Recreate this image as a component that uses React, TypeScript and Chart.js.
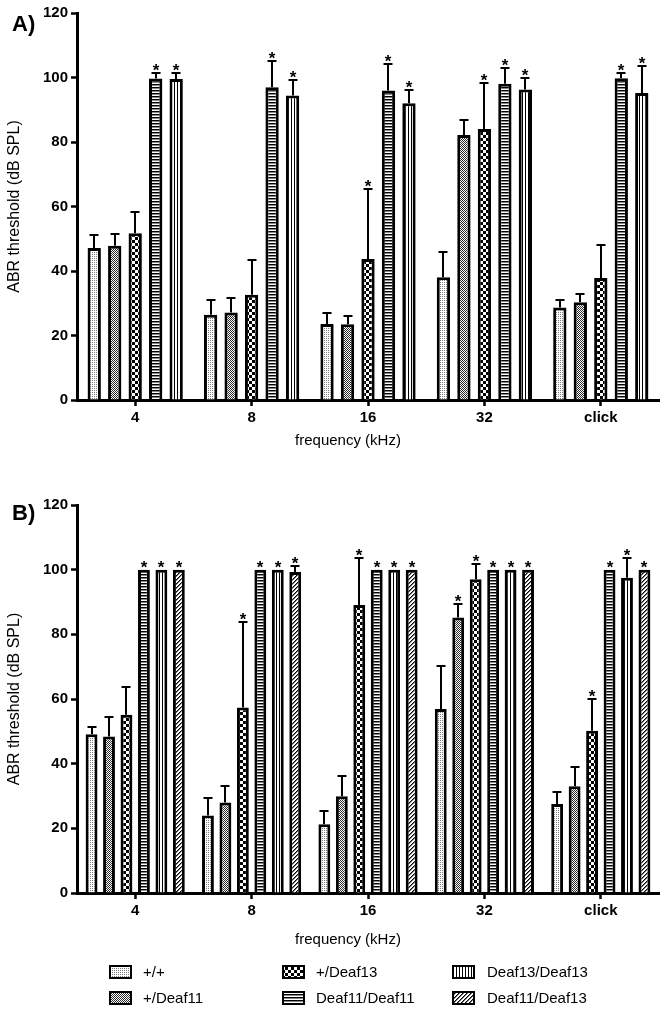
import React, { useEffect, useRef } from 'react';
import { Chart, registerables } from 'chart.js';

Chart.register(...registerables);

const FONT = "'Liberation Sans', Arial, Helvetica, sans-serif";

// ---------- data ----------
const categories = ['4', '8', '16', '32', 'click'];
const seriesLabels = ['+/+', '+/Deaf11', '+/Deaf13', 'Deaf11/Deaf11', 'Deaf13/Deaf13', 'Deaf11/Deaf13'];
const patternKinds = ['stipple', 'dense', 'checker', 'hlines', 'vlines', 'diag'];
const xAxisTitle = 'frequency (kHz)';
const yAxisTitle = 'ABR threshold (dB SPL)';

// Panel A
const aWT = [47.1, 26.4, 23.6, 38.1, 28.7];
const aWTErr = [4.0, 4.6, 3.5, 7.8, 2.3];
const aWTSig = [0, 0, 0, 0, 0];
const aHet11 = [47.8, 27.1, 23.5, 82.2, 30.3];
const aHet11Err = [3.7, 4.6, 2.4, 4.5, 2.6];
const aHet11Sig = [0, 0, 0, 0, 0];
const aHet13 = [51.7, 32.6, 43.7, 84.0, 37.8];
const aHet13Err = [6.6, 10.8, 21.7, 14.3, 10.2];
const aHet13Sig = [0, 0, 1, 1, 0];
const aD11 = [99.7, 97.0, 96.0, 98.1, 99.8];
const aD11Err = [1.7, 8.1, 8.3, 4.9, 1.6];
const aD11Sig = [1, 1, 1, 1, 1];
const aD13 = [99.5, 94.4, 92.0, 96.3, 95.2];
const aD13Err = [2.0, 4.9, 4.0, 3.4, 8.5];
const aD13Sig = [1, 1, 1, 1, 1];

// Panel B
const bWT = [49.1, 24.0, 21.3, 56.9, 27.5];
const bWTErr = [2.1, 5.4, 4.1, 13.4, 3.6];
const bWTSig = [0, 0, 0, 0, 0];
const bHet11 = [48.4, 28.0, 29.9, 85.2, 33.0];
const bHet11Err = [5.9, 5.0, 6.4, 4.1, 6.0];
const bHet11Sig = [0, 0, 0, 1, 0];
const bHet13 = [55.1, 57.4, 89.1, 97.0, 50.2];
const bHet13Err = [8.5, 26.4, 14.6, 4.7, 9.8];
const bHet13Sig = [0, 1, 1, 1, 1];
const bD11 = [100, 100, 100, 100, 100];
const bD11Err = [0, 0, 0, 0, 0];
const bD11Sig = [1, 1, 1, 1, 1];
const bD13 = [100, 100, 100, 100, 97.5];
const bD13Err = [0, 0, 0, 0, 6.0];
const bD13Sig = [1, 1, 1, 1, 1];
const bD1113 = [100, 99.3, 100, 100, 100];
const bD1113Err = [0, 1.8, 0, 0, 0];
const bD1113Sig = [1, 1, 1, 1, 1];

// ---------- helpers ----------
function makePattern(kind: string): CanvasPattern | string {
  const c = document.createElement('canvas');
  const g = c.getContext('2d');
  if (!g) return '#ccc';
  const base = (w: number, h: number) => {
    c.width = w;
    c.height = h;
    g.fillStyle = '#fff';
    g.fillRect(0, 0, w, h);
  };
  switch (kind) {
    case 'stipple':
      base(2, 2);
      g.fillStyle = '#7a7a7a';
      g.fillRect(0, 0, 1, 1);
      break;
    case 'dense':
      base(2, 2);
      g.fillStyle = '#2a2a2a';
      g.fillRect(0, 0, 1, 1);
      g.fillRect(1, 1, 1, 1);
      break;
    case 'checker':
      base(6, 6);
      g.fillStyle = '#000';
      g.fillRect(0, 0, 3, 3);
      g.fillRect(3, 3, 3, 3);
      break;
    case 'hlines':
      base(3, 3);
      g.fillStyle = '#000';
      g.fillRect(0, 0, 3, 1);
      g.fillStyle = '#888';
      g.fillRect(0, 1, 3, 1);
      break;
    case 'vlines':
      base(3, 3);
      g.fillStyle = '#000';
      g.fillRect(0, 0, 1, 3);
      break;
    case 'diag':
      base(4, 4);
      for (let i = 0; i < 4; i++) {
        g.fillStyle = '#000';
        g.fillRect(3 - i, i, 1, 1);
        g.fillStyle = '#777';
        g.fillRect((4 - i) % 4, i, 1, 1);
      }
      break;
    default:
      base(1, 1);
  }
  return g.createPattern(c, 'repeat') || '#ccc';
}

function ds(idx: number, data: number[], errors: number[], sig: number[], pats: any[], catPct: number, barPct: number) {
  return {
    label: seriesLabels[idx],
    data,
    errors,
    sig,
    backgroundColor: pats[idx],
    borderColor: '#000',
    borderWidth: 3,
    categoryPercentage: catPct,
    barPercentage: barPct,
  } as any;
}

const annotatePlugin = {
  id: 'annotate',
  afterDatasetsDraw(chart: any) {
    const ctx = chart.ctx;
    const ys = chart.scales.y;
    ctx.save();
    chart.data.datasets.forEach((d: any, di: number) => {
      const meta = chart.getDatasetMeta(di);
      meta.data.forEach((el: any, i: number) => {
        const v = d.data[i];
        const e = d.errors[i];
        const x = Math.round(el.x);
        const top = ys.getPixelForValue(v);
        let mark = top;
        if (e > 0) {
          const ey = Math.round(ys.getPixelForValue(v + e));
          ctx.strokeStyle = '#000';
          ctx.lineWidth = 2;
          ctx.beginPath();
          ctx.moveTo(x, top);
          ctx.lineTo(x, ey);
          ctx.moveTo(x - 4.5, ey);
          ctx.lineTo(x + 4.5, ey);
          ctx.stroke();
          mark = ey;
        }
        if (d.sig[i]) {
          ctx.fillStyle = '#000';
          ctx.font = `bold 17px ${FONT}`;
          ctx.textAlign = 'center';
          ctx.textBaseline = 'alphabetic';
          ctx.fillText('*', x, mark + 3);
        }
      });
    });
    ctx.restore();
  },
  afterDraw(chart: any, _args: any, opts: any) {
    const ctx = chart.ctx;
    ctx.save();
    ctx.fillStyle = '#000';
    // panel label
    ctx.font = `bold 22px ${FONT}`;
    ctx.textAlign = 'left';
    ctx.textBaseline = 'alphabetic';
    ctx.fillText(opts.label, 12, opts.labelY);
    // x axis title
    ctx.font = `15px ${FONT}`;
    ctx.textAlign = 'center';
    ctx.textBaseline = 'middle';
    ctx.fillText(xAxisTitle, opts.titleX, opts.titleY);
    // legend
    if (opts.legend) {
      const cols = [
        { sx: 110, tx: 143 },
        { sx: 283, tx: 316 },
        { sx: 453, tx: 487 },
      ];
      const rows = opts.legendRows;
      chart.data.datasets.forEach((d: any, k: number) => {
        const col = cols[Math.floor(k / 2)];
        const cy = rows[k % 2];
        const w = 21;
        const h = 12;
        ctx.fillStyle = d.backgroundColor;
        ctx.fillRect(col.sx, cy - h / 2, w, h);
        ctx.strokeStyle = '#000';
        ctx.lineWidth = 2;
        ctx.strokeRect(col.sx, cy - h / 2, w, h);
        ctx.fillStyle = '#000';
        ctx.font = `15px ${FONT}`;
        ctx.textAlign = 'left';
        ctx.textBaseline = 'middle';
        ctx.fillText(d.label, col.tx, cy + 1);
      });
    }
    ctx.restore();
  },
};

function makeOptions(cfg: any): any {
  return {
    responsive: false,
    animation: false,
    layout: { padding: { left: 0, right: 7, top: cfg.padTop, bottom: cfg.padBottom } },
    plugins: {
      legend: { display: false },
      tooltip: { enabled: false },
      annotate: cfg.annotate,
    },
    scales: {
      x: {
        type: 'category',
        offset: true,
        z: 1,
        grid: { display: true, offset: false, drawOnChartArea: false, drawTicks: true, tickLength: 6, tickWidth: 2.5, tickColor: '#000' },
        border: { display: true, color: '#000', width: 3 },
        ticks: { color: '#000', font: { family: FONT, size: 15, weight: 'bold' }, padding: 3, maxRotation: 0, autoSkip: false },
        title: { display: false },
        afterFit: (s: any) => {
          s.height = cfg.xHeight;
        },
      },
      y: {
        min: 0,
        max: 120,
        z: 1,
        ticks: { stepSize: 20, color: '#000', font: { family: FONT, size: 15, weight: 'bold' }, padding: 3 },
        grid: { drawOnChartArea: false, drawTicks: true, tickLength: 6, tickWidth: 2.5, tickColor: '#000' },
        border: { display: true, color: '#000', width: 3 },
        title: { display: true, text: yAxisTitle, color: '#000', font: { family: FONT, size: 16 }, padding: { top: 5, bottom: 0 } },
        afterFit: (s: any) => {
          s.width = 77;
        },
      },
    },
  };
}

export default function App() {
  const refA = useRef<HTMLCanvasElement>(null);
  const refB = useRef<HTMLCanvasElement>(null);

  useEffect(() => {
    const pats = patternKinds.map(makePattern);
    const catA = 0.88;
    const barA = 0.65;
    const catB = 0.9;
    const barB = 0.68;
    const chartA = new Chart(refA.current as HTMLCanvasElement, {
      type: 'bar',
      data: {
        labels: categories,
        datasets: [
          ds(0, aWT, aWTErr, aWTSig, pats, catA, barA),
          ds(1, aHet11, aHet11Err, aHet11Sig, pats, catA, barA),
          ds(2, aHet13, aHet13Err, aHet13Sig, pats, catA, barA),
          ds(3, aD11, aD11Err, aD11Sig, pats, catA, barA),
          ds(4, aD13, aD13Err, aD13Sig, pats, catA, barA),
        ],
      },
      options: makeOptions({
        padTop: 13,
        padBottom: 5,
        xHeight: 55,
        annotate: { label: 'A)', labelY: 31, titleX: 348, titleY: 441, legend: false },
      }),
      plugins: [annotatePlugin as any],
    });
    const chartB = new Chart(refB.current as HTMLCanvasElement, {
      type: 'bar',
      data: {
        labels: categories,
        datasets: [
          ds(0, bWT, bWTErr, bWTSig, pats, catB, barB),
          ds(1, bHet11, bHet11Err, bHet11Sig, pats, catB, barB),
          ds(2, bHet13, bHet13Err, bHet13Sig, pats, catB, barB),
          ds(3, bD11, bD11Err, bD11Sig, pats, catB, barB),
          ds(4, bD13, bD13Err, bD13Sig, pats, catB, barB),
          ds(5, bD1113, bD1113Err, bD1113Sig, pats, catB, barB),
        ],
      },
      options: makeOptions({
        padTop: 45,
        padBottom: 59,
        xHeight: 60,
        annotate: { label: 'B)', labelY: 60, titleX: 348, titleY: 480, legend: true, legendRows: [512, 538] },
      }),
      plugins: [annotatePlugin as any],
    });
    return () => {
      chartA.destroy();
      chartB.destroy();
    };
  }, []);

  return (
    <div style={{ position: 'absolute', left: 0, top: 0, width: 666, height: 1012, background: '#fff' }}>
      <canvas ref={refA} width={666} height={460} style={{ position: 'absolute', left: 0, top: 0, display: 'block' }} />
      <canvas ref={refB} width={666} height={552} style={{ position: 'absolute', left: 0, top: 460, display: 'block' }} />
    </div>
  );
}
